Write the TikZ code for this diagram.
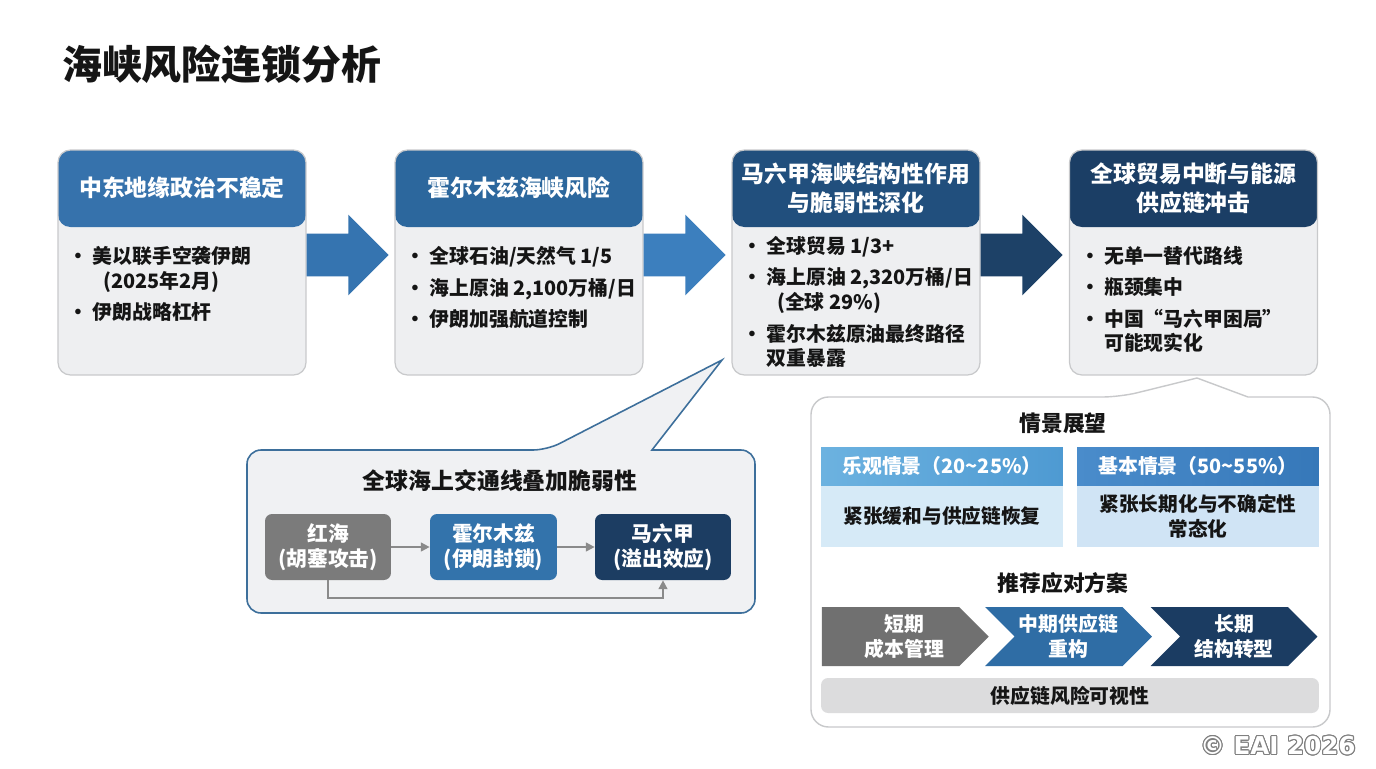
\documentclass[tikz,border=0pt]{standalone}
\usepackage{fontspec}
\setmainfont{Noto Sans CJK SC}
\newfontfamily\footfont{DejaVu Sans}
\usepackage[copies]{contour}
\usetikzlibrary{positioning, arrows.meta, shapes.arrows, shapes.symbols}

\definecolor{headA}{HTML}{3672AC}
\definecolor{headB}{HTML}{2C679D}
\definecolor{headC}{HTML}{214F7D}
\definecolor{headD}{HTML}{1B3E65}
\definecolor{arrowA}{HTML}{3574B0}
\definecolor{arrowB}{HTML}{3C7FBE}
\definecolor{arrowC}{HTML}{1D4167}
\definecolor{cardfill}{HTML}{EEEFF1}
\definecolor{cardline}{HTML}{C8C9CB}
\definecolor{calloutline}{HTML}{3D6F9B}
\definecolor{calloutfill}{HTML}{F0F1F3}
\definecolor{routegray}{HTML}{7B7B7B}
\definecolor{routeblue}{HTML}{3373AB}
\definecolor{routenavy}{HTML}{1C3D62}
\definecolor{linkgray}{HTML}{8A8A8A}
\definecolor{optheadL}{HTML}{6CB2E0}
\definecolor{optheadR}{HTML}{4E9AD2}
\definecolor{baseheadL}{HTML}{4A8CCB}
\definecolor{baseheadR}{HTML}{3678B9}
\definecolor{optbody}{HTML}{D6EAF7}
\definecolor{basebody}{HTML}{D0E4F5}
\definecolor{stepgray}{HTML}{707070}
\definecolor{stepblue}{HTML}{2F6DA5}
\definecolor{stepnavy}{HTML}{1B3C62}
\definecolor{barfill}{HTML}{DCDCDD}
\definecolor{inktext}{HTML}{151515}

% bullet and hanging indent for the card lists
\newcommand\bitem{\makebox[13.6pt][l]{\textbullet}}
\newcommand\bcont{\hspace*{13.6pt}}

\begin{document}
\begin{tikzpicture}[x=0.02cm, y=-0.02cm,
  every node/.style={font=\bfseries, text=inktext},
  card/.style={draw=cardline, line width=0.7pt, fill=cardfill, rounded corners=7pt,
    minimum width=4.96cm, minimum height=4.5cm, inner sep=0pt,
    path picture={\fill[#1] (path picture bounding box.north west)
      rectangle ([yshift=-1.54cm]path picture bounding box.north east);}},
  headtext/.style={text=white, align=center, font=\fontsize{13}{16.5}\selectfont\bfseries},
  bodytext/.style={anchor=north west, inner sep=0pt, align=left,
    font=\fontsize{11.3}{14.2}\selectfont\bfseries},
  flowarrow/.style={single arrow, single arrow head extend=0.38cm, inner xsep=0pt,
    inner ysep=0.42cm, minimum height=1.64cm, draw=none},
  route/.style={rounded corners=4pt, minimum height=1.32cm, inner sep=0pt,
    text=white, align=center, font=\fontsize{11.8}{14.2}\selectfont\bfseries},
  link/.style={draw=linkgray, line width=1pt, -{Triangle[length=5pt, width=5pt]}},
  scenhead/.style={minimum width=4.84cm, minimum height=0.76cm, inner sep=0pt,
    text=white, font=\fontsize{11.3}{14}\selectfont\bfseries},
  scenbody/.style={minimum width=4.84cm, minimum height=1.22cm, inner sep=0pt,
    align=center, font=\fontsize{11.2}{14.5}\selectfont\bfseries},
  chevron/.style={signal, signal to=east, minimum height=1.18cm, minimum width=3.34cm,
    inner sep=0pt, text=white, align=center, font=\fontsize{11.3}{14.2}\selectfont\bfseries},
  subtitle/.style={font=\fontsize{12.4}{15}\selectfont\bfseries}]

  \useasboundingbox (0,0) rectangle (1376,768);
  \fill[white] (0,0) rectangle (1376,768);

  \node[anchor=west, font=\fontsize{22.7}{26}\selectfont\bfseries] (title) at (56,64) {海峡风险连锁分析};

  % chain of four cards
  \node[card=headA] (mideast) at (182,262.5) {};
  \node[card=headB] (hormuz) at (519,262.5) {};
  \node[card=headC] (malacca) at (856,262.5) {};
  \node[card=headD] (impact) at (1193.5,262.5) {};

  \node[headtext] (mideast-t) at ([yshift=-0.77cm]mideast.north) {中东地缘政治不稳定};
  \node[headtext] (hormuz-t) at ([yshift=-0.77cm]hormuz.north) {霍尔木兹海峡风险};
  \node[headtext] (malacca-t) at ([yshift=-0.77cm]malacca.north) {马六甲海峡结构性作用\\与脆弱性深化};
  \node[headtext] (impact-t) at ([yshift=-0.77cm]impact.north) {全球贸易中断与能源\\供应链冲击};

  \node[bodytext] (mideast-b) at ([xshift=0.22cm, yshift=-1.94cm]mideast.north west)
    {\bitem 美以联手空袭伊朗\\\bcont\hspace*{6pt}(2025年2月)\\[3.5pt]\bitem 伊朗战略杠杆};
  \node[bodytext] (hormuz-b) at ([xshift=0.22cm, yshift=-1.94cm]hormuz.north west)
    {\bitem 全球石油/天然气 1/5\\[3.5pt]\bitem 海上原油 2,100万桶/日\\[3.5pt]\bitem 伊朗加强航道控制};
  \node[bodytext] (malacca-b) at ([xshift=0.22cm, yshift=-1.74cm]malacca.north west)
    {\bitem 全球贸易 1/3+\\[3.5pt]\bitem 海上原油 2,320万桶/日\\\bcont\hspace*{6pt}(全球 29\%)\\[3.5pt]\bitem 霍尔木兹原油最终路径\\\bcont 双重暴露};
  \node[bodytext] (impact-b) at ([xshift=0.22cm, yshift=-1.94cm]impact.north west)
    {\bitem 无单一替代路线\\[3.5pt]\bitem 瓶颈集中\\[3.5pt]\bitem 中国“马六甲困局”\\\bcont 可能现实化};

  \node[flowarrow, fill=arrowA] (step1) at (337,255) {};
  \node[flowarrow, fill=arrowB] (step2) at (674,255) {};
  \node[flowarrow, fill=arrowC] (step3) at (1011,255) {};

  % callout from the Malacca card
  \draw[draw=calloutline, fill=calloutfill, line width=0.9pt, rounded corners=8pt]
    (652,450) -- (755,450) -- (755,613) -- (247,613) -- (247,450) -- (547,450)
    [sharp corners] -- (722,360) -- cycle;
  \node[font=\fontsize{13}{16}\selectfont\bfseries] (overlay) at (500,481) {全球海上交通线叠加脆弱性};

  \node[route, fill=routegray, minimum width=2.52cm] (redsea) at (328,547) {红海\\(胡塞攻击)};
  \node[route, fill=routeblue, minimum width=2.54cm] (hormuz-r) at (493.5,547) {霍尔木兹\\(伊朗封锁)};
  \node[route, fill=routenavy, minimum width=2.72cm] (malacca-r) at (663,547) {马六甲\\(溢出效应)};
  \draw[link] (redsea) -- (hormuz-r);
  \draw[link] (hormuz-r) -- (malacca-r);
  \draw[link] (redsea.south) -- ++(0,18) -| (malacca-r.south);

  % scenario and response panel under the last card
  \draw[draw=cardline, fill=white, line width=0.8pt, rounded corners=10pt]
    (1248,397) -- (1330,397) -- (1330,727) -- (811,727) -- (811,397) -- (1120,397)
    [sharp corners] -- (1197,378) -- cycle;
  \node[subtitle] (outlook) at (1063,423) {情景展望};

  \node[scenhead, left color=optheadL, right color=optheadR] (optimistic) at (942,466) {乐观情景（20\textasciitilde 25\%）};
  \node[scenbody, fill=optbody, below=0pt of optimistic] (optimistic-b) {紧张缓和与供应链恢复};
  \node[scenhead, left color=baseheadL, right color=baseheadR] (baseline) at (1198,466) {基本情景（50\textasciitilde 55\%）};
  \node[scenbody, fill=basebody, below=0pt of baseline] (baseline-b) {紧张长期化与不确定性\\常态化};

  \node[subtitle] (plan) at (1063,583) {推荐应对方案};

  \node[chevron, fill=stepgray] (shortterm) at (890.5,636.5) {};
  \node[chevron, draw=none, fill=none] (shortterm-t) at (904.5,636.5) {短期\\成本管理};
  \node[chevron, signal from=west, fill=stepblue] (midterm) at (1068.5,636.5) {中期供应链\\重构};
  \node[chevron, signal from=west, fill=stepnavy] (longterm) at (1234,636.5) {长期\\结构转型};

  \node[fill=barfill, rounded corners=4pt, minimum width=9.96cm, minimum height=0.7cm,
    inner sep=0pt, font=\fontsize{11.3}{14}\selectfont\bfseries] (visibility) at (1070,695.5) {供应链风险可视性};

  \node[font=\footfont\bfseries\fontsize{14}{16}\selectfont] (credit) at (1278,746)
    {\contourlength{0.6pt}\contour{black!50}{\textcolor{white}{© EAI 2026}}};
\end{tikzpicture}
\end{document}
